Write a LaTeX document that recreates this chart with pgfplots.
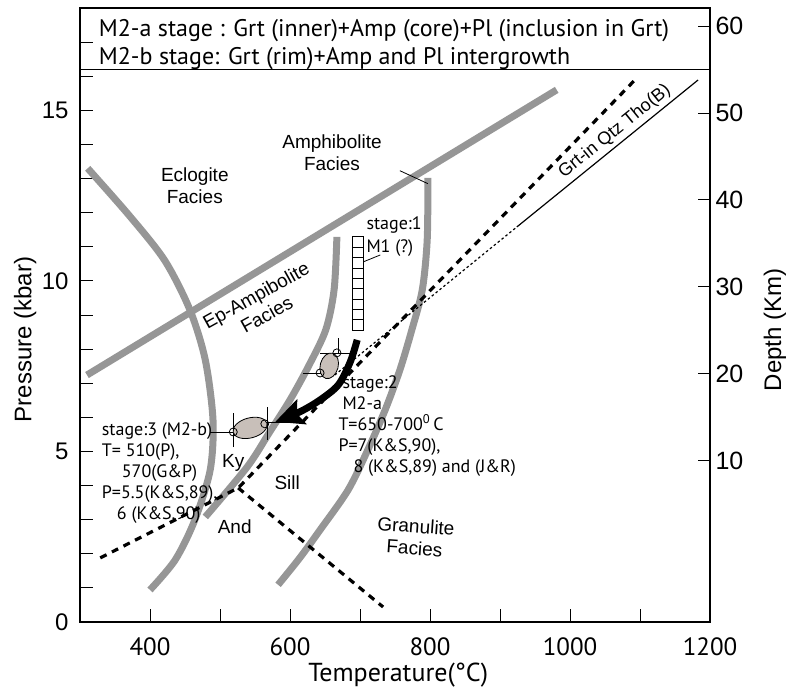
\documentclass[border=0pt]{standalone}
\usepackage{pgfplots}
\pgfplotsset{compat=1.18}
\usepackage{fontspec}
\setmainfont{Liberation Sans}
\newfontfamily\myr{PT Sans}
\usetikzlibrary{arrows.meta}
\definecolor{fac}{RGB}{150,150,150}
\definecolor{ell}{RGB}{200,191,185}
\newcommand{\fac}{\fontsize{19}{22}\selectfont}
\newcommand{\stg}{\myr\fontsize{18}{21}\selectfont}

\begin{document}
\begin{tikzpicture}
\path[use as bounding box] (-80pt,-68pt) rectangle (707pt,622pt);
\begin{axis}[
    at={(0,0)}, anchor=south west,
    width=630pt, height=614pt, scale only axis,
    xmin=300, xmax=1200, ymin=0, ymax=18,
    xtick={400,600,...,1200}, minor xtick={500,700,900,1100},
    ytick={0,5,10,15}, minor ytick={1,2,3,4,6,7,8,9,11,12,13,14,16,17},
    xtick pos=bottom, ytick pos=left,
    tick align=inside,
    major tick length=13pt, minor tick length=13pt,
    every tick/.style={black, line width=0.9pt},
    axis line style={line width=2.4pt},
    /pgf/number format/assume math mode=true,
    /pgf/number format/1000 sep={},
    xticklabel style={font=\myr\fontsize{25}{25}\selectfont, yshift=-12pt},
    yticklabel style={font=\fontsize{24}{24}\selectfont, xshift=-8pt},
    xlabel={Temperature(°C)},
    xlabel style={font=\myr\fontsize{26}{26}\selectfont, at={(axis description cs:0.505,-0.087)}, anchor=center},
    ylabel={Pressure (kbar)},
    ylabel style={font=\fontsize{24}{24}\selectfont, at={(axis description cs:-0.087,0.46)}, anchor=center},
    clip=false,
]
% facies boundaries (thick grey)
\addplot[fac, line width=7pt] coordinates {(310,7.24) (981,15.6)};
\addplot[fac, line width=7pt, smooth] coordinates {
  (311,13.3) (371,11.9) (421,10.6) (457,9.15) (479,7.68) (490,5.92)
  (486,4.46) (464,2.99) (436,1.82) (400,0.94)};
\addplot[fac, line width=7pt, smooth] coordinates {
  (667,11.29) (663,9.74) (651,8.56) (626,7.48) (600,6.51) (571,5.57)
  (539,4.55) (479,3.08)};
\addplot[fac, line width=7pt, smooth] coordinates {
  (797,13.02) (796,11.2) (789,9.74) (774,8.56) (757,7.39) (736,6.22)
  (711,5.04) (683,3.87) (643,2.70) (614,1.88) (583,1.09)};
% Al2SiO5 triple point
\addplot[black, line width=3.2pt, dash pattern=on 7pt off 6pt] coordinates {(329,1.88) (526,3.93) (1097,15.98)};
\addplot[black, line width=3.2pt, dash pattern=on 7pt off 6pt] coordinates {(526,3.93) (733,0.44)};
% Grt-in Qtz Tho(B)
\addplot[black, line width=1.2pt, dash pattern=on 2.5pt off 2.5pt] coordinates {(664,7.24) (924,11.58)};
\addplot[black, line width=1.2pt] coordinates {(924,11.58) (1183,15.89)};
% header rule
\addplot[black, line width=0.8pt] coordinates {(300,16.2) (1200,16.2)};
% stage 1 column
\addplot[black, line width=0.8pt] coordinates {(689,8.56) (705,8.56) (705,11.29) (689,11.29) (689,8.56)};
\addplot[black, line width=0.8pt, unbounded coords=jump] coordinates {
  (689,8.86) (705,8.86) (705,nan) (689,9.17) (705,9.17) (705,nan)
  (689,9.47) (705,9.47) (705,nan) (689,9.77) (705,9.77) (705,nan)
  (689,10.08) (705,10.08) (705,nan) (689,10.38) (705,10.38) (705,nan)
  (689,10.68) (705,10.68) (705,nan) (689,10.99) (705,10.99)};
\addplot[black, line width=0.8pt] coordinates {(705,10.56) (729,10.76)};
% amphibolite leader
\addplot[black, line width=0.8pt] coordinates {(757,13.23) (797,12.85)};
% P-T path arrow
\addplot[black, line width=7pt, smooth, -{Stealth[length=28pt, width=26pt, inset=5pt]}] coordinates {
  (696,8.27) (686,7.62) (669,6.95) (643,6.51) (614,6.16) (579,5.87)};
% ellipses
\addplot[only marks, mark=*, mark size=9pt, mark options={draw=black, line width=0.8pt, fill=ell, rotate=-15, yscale=1.45}] coordinates {(656,7.51)};
\addplot[only marks, mark=*, mark size=10pt, mark options={draw=black, line width=0.8pt, fill=ell, rotate=15, xscale=1.75}] coordinates {(543,5.69)};
% cross lines
\addplot[black, line width=0.6pt, unbounded coords=jump] coordinates {
  (669,7.89) (669,8.33) (669,nan) (643,7.89) (690,7.89) (690,nan)
  (619,7.30) (655,7.30) (655,nan)
  (486,5.57) (524,5.57) (524,nan) (519,5.13) (519,6.13) (519,nan)
  (567,5.34) (567,6.30) (567,nan) (545,5.84) (600,5.84)};
\addplot[only marks, mark=o, mark size=4pt, mark options={line width=0.8pt, black}] coordinates {
  (667,7.89) (643,7.30) (519,5.57) (564,5.81)};
% labels
\node[font=\myr\fontsize{24}{28}\selectfont, anchor=west] at (axis cs:322,17.33) {M2-a stage : Grt (inner)+Amp (core)+Pl (inclusion in Grt)};
\node[font=\myr\fontsize{24}{28}\selectfont, anchor=west] at (axis cs:322,16.52) {M2-b stage: Grt (rim)+Amp and Pl intergrowth};
\node[font=\fac, align=center] at (axis cs:464,12.78) {Eclogite\\Facies};
\node[font=\fac, align=center] at (axis cs:660,13.75) {Amphibolite\\Facies};
\node[font=\fac, align=center, rotate=29] at (axis cs:559,9.3) {Ep-Ampibolite\\Facies};
\node[font=\fac, align=center, rotate=-4] at (axis cs:779,2.49) {Granulite\\Facies};
\node[font=\fac] at (axis cs:519,4.66) {Ky};
\node[font=\fac] at (axis cs:596,4.08) {Sill};
\node[font=\fac] at (axis cs:521,2.79) {And};
\node[font=\fontsize{18}{21}\selectfont, rotate=39] at (axis cs:1064,14.38) {Grt-in Qtz Tho(B)};
\node[font=\stg, anchor=west, inner sep=0pt] at (axis cs:709,11.64) {stage:1};
\node[font=\stg, anchor=west, inner sep=0pt] at (axis cs:709,10.97) {M1 (?)};
\node[font=\stg, align=left, anchor=north west, inner sep=0pt] at (axis cs:669,7.24)
  {\hspace{4pt}stage:2\\\hspace{4pt}M2-a\\T=650-700\textsuperscript{0}\,C\\P=7(K\&S,90),\\\hspace{15pt}8 (K\&S,89) and (J\&R)};
\node[font=\stg, align=left, anchor=north west, inner sep=0pt] at (axis cs:331,5.85)
  {stage:3 (M2-b)\\T= 510(P),\\\hspace{20pt}570(G\&P)\\P=5.5(K\&S,89),\\\hspace{15pt}6 (K\&S,90)};
\end{axis}
\begin{axis}[
    at={(0,0)}, anchor=south west,
    width=630pt, height=614pt, scale only axis,
    xmin=300, xmax=1200, ymin=-8.6, ymax=62.1,
    xtick=\empty, ytick={10,20,...,60}, ytick pos=right,
    yticklabel pos=right,
    tick align=inside, major tick length=12pt,
    every tick/.style={black, line width=0.9pt},
    axis line style={draw=none},
    /pgf/number format/assume math mode=true,
    yticklabel style={font=\fontsize{25}{25}\selectfont, xshift=2pt},
    ylabel={Depth (Km)}, ylabel near ticks,
    ylabel style={font=\fontsize{24}{24}\selectfont, at={(axis description cs:1.103,0.476)}, anchor=center, rotate=0},
]
\end{axis}
\end{tikzpicture}
\end{document}
